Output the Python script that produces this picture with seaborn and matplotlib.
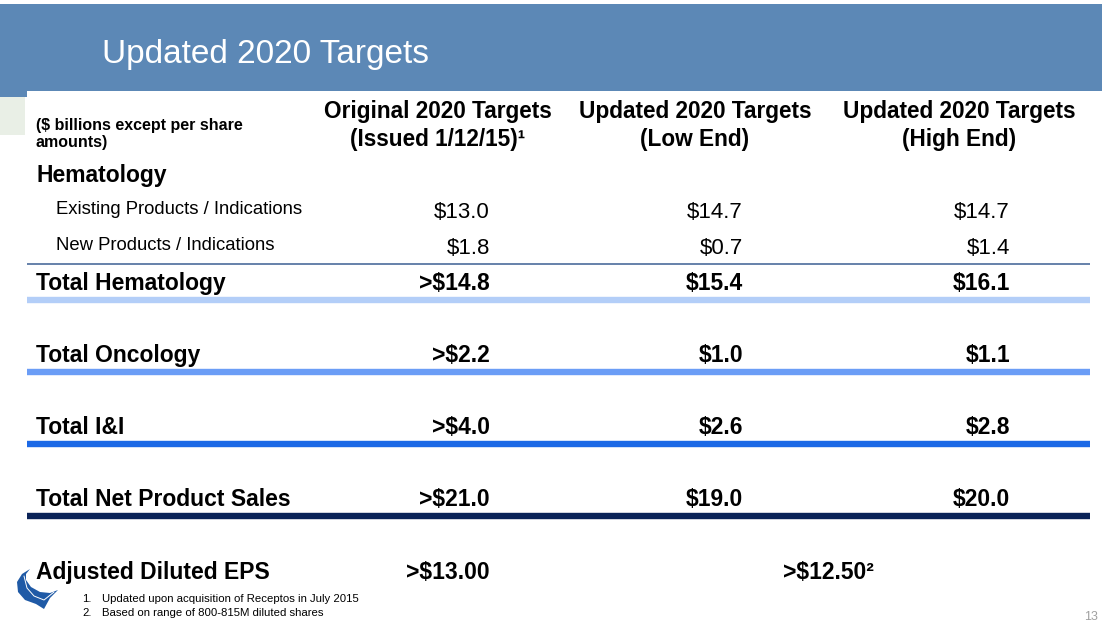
import matplotlib
matplotlib.use("Agg")
import matplotlib.pyplot as plt
from matplotlib.patches import Rectangle, Polygon
import seaborn as sns

# --- table content ---
title = "Updated 2020 Targets"
unit_note = ["($ billions except per share", "amounts)"]
col_top = ["Original 2020 Targets", "Updated 2020 Targets", "Updated 2020 Targets"]
col_bottom = ["(Issued 1/12/15)\u00b9", "(Low End)", "(High End)"]

section = "Hematology"
sub_labels = ["Existing Products / Indications", "New Products / Indications"]
sub_original = [13.0, 1.8]
sub_low = [14.7, 0.7]
sub_high = [14.7, 1.4]

total_labels = ["Total Hematology", "Total Oncology", "Total I&I", "Total Net Product Sales"]
total_original = [14.8, 2.2, 4.0, 21.0]
total_low = [15.4, 1.0, 2.6, 19.0]
total_high = [16.1, 1.1, 2.8, 20.0]
rule_colors = ["#B3CEF8", "#6B9DF6", "#1C69E6", "#0B2358"]

eps_label = "Adjusted Diluted EPS"
eps_original = 13.00
eps_updated = 12.50

footnotes = ["Updated upon acquisition of Receptos in July 2015",
             "Based on range of 800-815M diluted shares"]
page_no = "13"

sns.set_theme(style="white")
plt.rcParams["font.family"] = ["Liberation Sans", "DejaVu Sans"]
plt.rcParams["text.color"] = "black"

W, H = 1102, 626
fig = plt.figure(figsize=(W / 100, H / 100), dpi=100)
ax = fig.add_axes([0, 0, 1, 1])
ax.set_xlim(0, W)
ax.set_ylim(H, 0)
ax.axis("off")

# header band
ax.add_patch(Rectangle((0, 4), W, 87, color="#5C88B6", lw=0))
ax.add_patch(Rectangle((0, 90), 27, 7, color="#5C88B6", lw=0))
ax.add_patch(Rectangle((0, 97), 25, 38, color="#E9EFE6", lw=0))
ax.text(102, 63, title, color="white", fontsize=24, va="baseline")

# column headers
col_x = [438, 695, 959]
right_x = [490, 743, 1010]
for x, t, b in zip(col_x, col_top, col_bottom):
    ax.text(x, 118, t, fontsize=16.3, fontweight="bold", ha="center", va="baseline")
    ax.text(x, 146, b, fontsize=16.3, fontweight="bold", ha="center", va="baseline")

ax.text(36, 130, unit_note[0], fontsize=11.5, fontweight="bold", va="baseline")
ax.text(36, 147, unit_note[1], fontsize=11.5, fontweight="bold", va="baseline")

# hematology detail rows
ax.text(36, 182, section, fontsize=16.5, fontweight="bold", va="baseline")
sub_base = [214, 250]
for i, lab in enumerate(sub_labels):
    ax.text(56, sub_base[i], lab, fontsize=13.3, va="baseline")
    for j, vals in enumerate([sub_original, sub_low, sub_high]):
        ax.text(right_x[j], sub_base[i] + 4, f"${vals[i]:.1f}", fontsize=16,
                ha="right", va="baseline")

ax.hlines(264, 27, 1090, color="#4C6C9C", lw=1.2)

# total rows with coloured rules
total_base = [290, 362, 434, 506]
rule_y = [300, 372, 444, 516]
for i, lab in enumerate(total_labels):
    ax.text(36, total_base[i], lab, fontsize=16.5, fontweight="bold", va="baseline")
    ax.text(right_x[0], total_base[i], f">${total_original[i]:.1f}", fontsize=16.5,
            fontweight="bold", ha="right", va="baseline")
    ax.text(right_x[1], total_base[i], f"${total_low[i]:.1f}", fontsize=16.5,
            fontweight="bold", ha="right", va="baseline")
    ax.text(right_x[2], total_base[i], f"${total_high[i]:.1f}", fontsize=16.5,
            fontweight="bold", ha="right", va="baseline")
    ax.hlines(rule_y[i], 27, 1090, color=rule_colors[i], lw=4.6)

# EPS row
ax.text(36, 579, eps_label, fontsize=16.5, fontweight="bold", va="baseline")
ax.text(right_x[0], 579, f">${eps_original:.2f}", fontsize=16.5, fontweight="bold",
        ha="right", va="baseline")
ax.text(783, 579, f">${eps_updated:.2f}\u00b2", fontsize=16.5, fontweight="bold",
        va="baseline")

# footnotes
for k, note in enumerate(footnotes):
    y = 602 + k * 14
    ax.text(82, y, f"{k + 1}.", fontsize=8.2, va="baseline")
    ax.text(102, y, note, fontsize=8.2, va="baseline")

ax.text(1098, 620, page_no, fontsize=9, color="#A0A0A0", ha="right", va="baseline")

# small logo swoosh
logo = [(30, 569), (22, 574), (17, 582), (18, 592), (25, 600), (36, 604),
        (44, 609), (50, 598), (58, 590), (50, 593), (40, 592), (31, 587),
        (26, 580), (26, 574)]
ax.add_patch(Polygon(logo, closed=True, color="#1F5AA6", lw=0))
ax.plot([24, 27, 34, 44, 54], [576, 588, 596, 600, 592], color="white", lw=0.7)

fig.savefig("out.png", dpi=100)
